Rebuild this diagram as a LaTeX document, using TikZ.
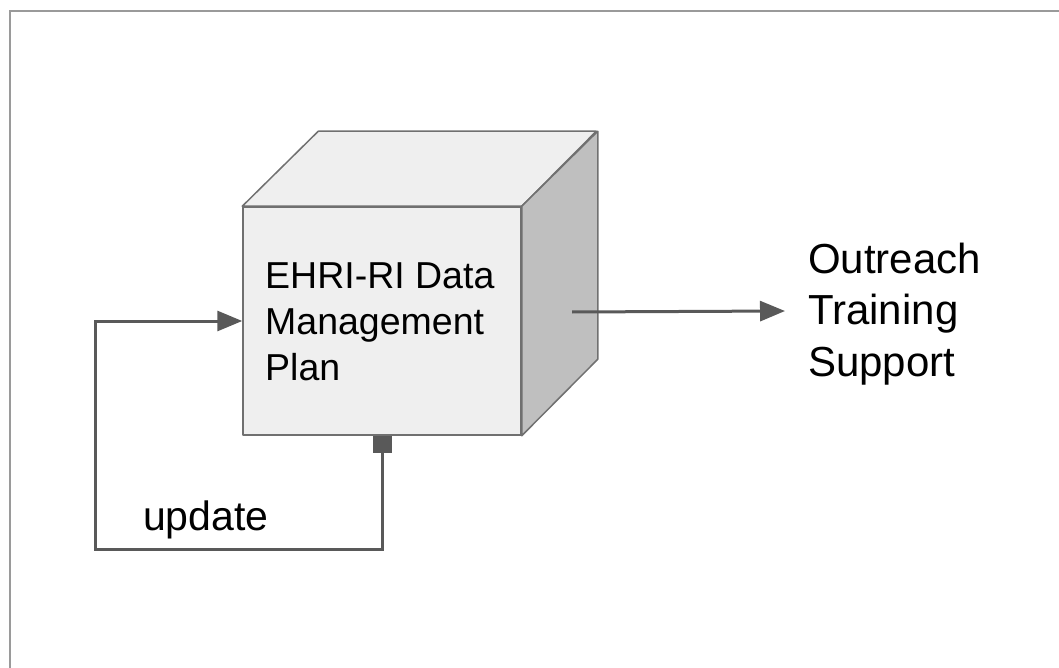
\documentclass[tikz,border=0pt]{standalone}
\usepackage{fontspec}
\setmainfont{Liberation Sans}
\usetikzlibrary{arrows.meta,calc}
\definecolor{linegray}{HTML}{595959}
\definecolor{framegray}{HTML}{9A9A9A}
\definecolor{edgegray}{HTML}{707070}
\definecolor{facelight}{HTML}{EFEFEF}
\definecolor{facedark}{HTML}{BFBFBF}
\tikzset{
  conn/.style={draw=linegray, line width=3pt},
  face/.style={draw=edgegray, line width=1.5pt, line join=round},
  lbl/.style={inner sep=0pt, anchor=base west, text=black},
  cubetxt/.style={lbl, font=\fontsize{37.5}{46}\selectfont},
  outtxt/.style={lbl, font=\fontsize{42}{51}\selectfont},
}
\begin{document}
\begin{tikzpicture}[x=1pt,y=-1pt]
\useasboundingbox (0,0) rectangle (1059,668);
\clip (0,0) rectangle (1059,668);
% outer frame
\draw[framegray, line width=2pt] (10,11) rectangle (1080,690);
% cube
\node[face, fill=facelight, minimum width=278pt, minimum height=228pt, inner sep=0pt] (front) at (382,321) {};
\draw[face, fill=facelight] (front.north west) -- ++(76,-75) -- ++(278,0) -- (front.north east) -- cycle;
\draw[face, fill=facedark] (front.north east) -- ++(76,-75) -- ++(0,228) -- (front.south east) -- cycle;
% text inside cube
\node[cubetxt] (t1) at (265,288) {EHRI-RI Data};
\node[cubetxt] (t2) at (265,334) {Management};
\node[cubetxt] (t3) at (265,380) {Plan};
% output text
\node[outtxt] (o1) at (808,273) {Outreach};
\node[outtxt] (o2) at (808,324) {Training};
\node[outtxt] (o3) at (808,376) {Support};
% update label
\node[lbl, font=\fontsize{41}{49}\selectfont] (upd) at (143,530) {update};
% output arrow
\coordinate (outstart) at (572,312);
\coordinate (outend) at (785,311);
\draw[conn, -{Triangle[length=25pt,width=20pt]}] (outstart) -- (outend);
% update loop
\coordinate (loopbr) at (382,549);
\coordinate (loopbl) at (95,549);
\coordinate (looptl) at (95,321);
\draw[conn, line join=miter, {Square[length=17pt,width=19pt]}-{Triangle[length=25pt,width=20pt]}]
  (front.south) -- (loopbr) -- (loopbl) -- (looptl) -- (front.west);
\end{tikzpicture}
\end{document}
